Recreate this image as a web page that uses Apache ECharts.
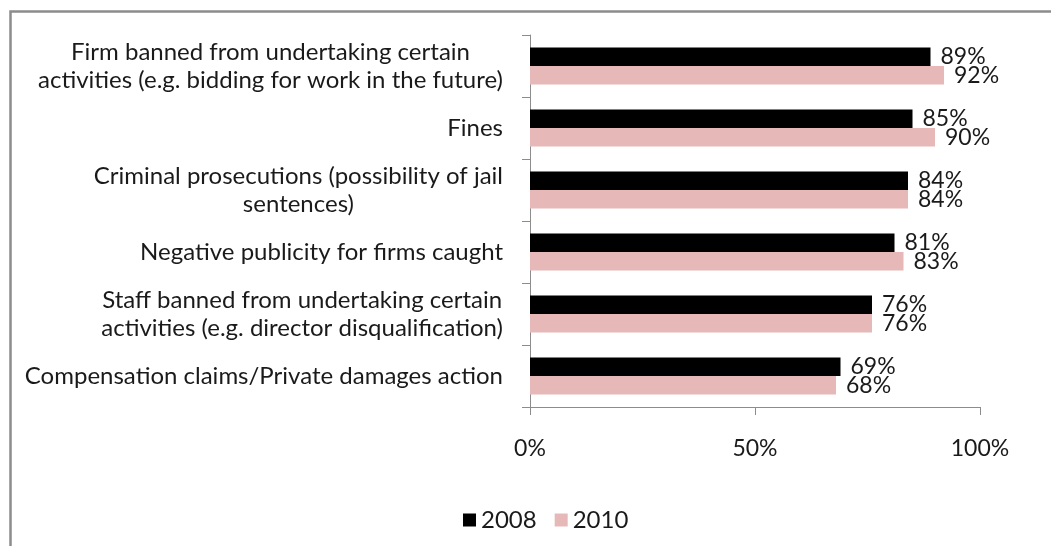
<!DOCTYPE html>
<html>
<head>
<meta charset="utf-8">
<title>Sanctions deterrence 2008 vs 2010</title>
<script src="https://cdn.jsdelivr.net/npm/echarts@6/dist/echarts.min.js"></script>
<style>
  html, body { margin: 0; padding: 0; background: #fff; }
  #chart { width: 1051px; height: 546px; }
</style>
</head>
<body>
<div id="chart"></div>
<script>
// Sanction types, listed top to bottom
const categories = [
  "Firm banned from undertaking certain\nactivities (e.g. bidding for work in the future)",
  "Fines",
  "Criminal prosecutions (possibility of jail\nsentences)",
  "Negative publicity for firms caught",
  "Staff banned from undertaking certain\nactivities (e.g. director disqualification)",
  "Compensation claims/Private damages action"
];

// Share of respondents (%)
const values2008 = [89, 85, 84, 81, 76, 69];
const values2010 = [92, 90, 84, 83, 76, 68];

const seriesNames = ["2008", "2010"];
const xTicks = [0, 50, 100];

const FONT = "Lato, 'Open Sans', sans-serif";
const TEXT = "#1a1a1a";
const AXIS = "#8c8c8c";

const chart = echarts.init(document.getElementById("chart"), null, { renderer: "canvas" });

// Each line of a category label is centred inside the label block
function centredLines(text) {
  return text.split("\n").map(l => "{c|" + l + "}").join("\n");
}

const barLabel = {
  show: true,
  position: "right",
  distance: 10,
  formatter: p => p.value + "%",
  color: TEXT,
  fontFamily: FONT,
  fontSize: 23
};

chart.setOption({
  animation: false,
  backgroundColor: "#ffffff",
  graphic: [{
    type: "rect",
    left: 8, top: 9, z: -10,
    shape: { width: 1100, height: 600 },
    style: { fill: "none", stroke: AXIS, lineWidth: 2.5 }
  }],
  grid: { left: 530, right: 71, top: 35, bottom: 139, containLabel: false },
  legend: {
    data: seriesNames,
    left: 458, top: 503,
    itemWidth: 13, itemHeight: 13, itemGap: 18,
    icon: "rect",
    textStyle: { color: TEXT, fontFamily: FONT, fontSize: 24 }
  },
  xAxis: {
    type: "value",
    min: xTicks[0], max: xTicks[xTicks.length - 1], interval: 50,
    axisLine: { show: true, lineStyle: { color: AXIS, width: 1 } },
    axisTick: { show: true, length: 8, lineStyle: { color: AXIS } },
    splitLine: { show: false },
    axisLabel: {
      margin: 30,
      color: TEXT, fontFamily: FONT, fontSize: 23,
      formatter: v => v + "%"
    }
  },
  yAxis: {
    type: "category",
    data: categories,
    inverse: true,
    axisLine: { show: true, lineStyle: { color: AXIS, width: 1 } },
    axisTick: { show: true, length: 8, lineStyle: { color: AXIS } },
    axisLabel: {
      margin: 27,
      align: "right",
      color: TEXT, fontFamily: FONT, fontSize: 24,
      lineHeight: 28,
      formatter: centredLines,
      rich: { c: { align: "center", color: TEXT, fontFamily: FONT, fontSize: 24, lineHeight: 28 } }
    }
  },
  series: [
    {
      name: seriesNames[0], type: "bar", data: values2008,
      barGap: "0%", barCategoryGap: "40%",
      itemStyle: { color: "#000000" },
      label: barLabel
    },
    {
      name: seriesNames[1], type: "bar", data: values2010,
      barGap: "0%", barCategoryGap: "40%",
      itemStyle: { color: "#E6B9B8" },
      label: barLabel
    }
  ]
});
</script>
</body>
</html>
